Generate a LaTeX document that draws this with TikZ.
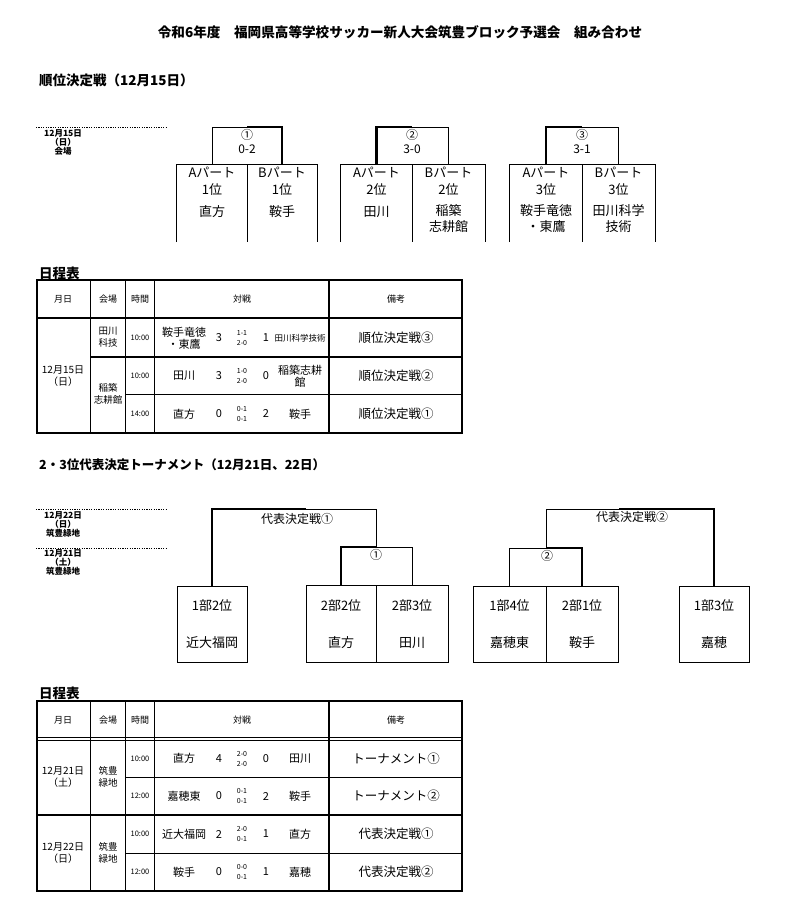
\documentclass[tikz,border=0pt]{standalone}
\usepackage{fontspec}
\setmainfont{Noto Sans CJK JP}
\newcommand{\matchrow}[9]{%
 \node[tm] (#1a) at (140,#2) {#3};
 \node[tn] (#1b) at (184,#2) {#4};
 \node[tn] (#1c) at (219,#2) {#5};
 \node[ts] (#1d) at (242,#2) {#6};
 \node[tn] (#1e) at (266,#2) {#7};
 \node[tn] (#1f) at (300,#2) {#8};
 \node[tr] (#1g) at (396,#2) {#9};}
\newcommand{\headrow}[2]{%
 \node[th] (#1a) at (63,#2) {月日};
 \node[th] (#1b) at (108,#2) {会場};
 \node[th] (#1c) at (140,#2) {時間};
 \node[th] (#1d) at (242,#2) {対戦};
 \node[th] (#1e) at (396,#2) {備考};}
\begin{document}
\begin{tikzpicture}[x=1pt,y=-1pt,
  ln/.style={line width=0.9pt},
  wn/.style={line width=2.3pt, line join=miter},
  tbl/.style={line width=2pt},
  dot/.style={line width=0.7pt, dash pattern=on 1.2pt off 1.2pt},
  tx/.style={inner sep=0pt, align=center},
  ttl/.style={tx, font=\bfseries\fontsize{13.6}{16}\selectfont},
  hd/.style={tx, anchor=west, font=\bfseries\fontsize{13.5}{16}\selectfont},
  side/.style={tx, font=\bfseries\fontsize{8.5}{9}\selectfont},
  bx/.style={tx, font=\fontsize{13}{16.5}\selectfont},
  mk/.style={tx, font=\fontsize{12}{14}\selectfont},
  half/.style={minimum height=77pt, inner sep=0pt},
  box2/.style={draw, line width=0.9pt, minimum height=76pt, inner sep=0pt},
  th/.style={tx, font=\fontsize{9}{11}\selectfont},
  tv/.style={tx, font=\fontsize{9.5}{12}\selectfont},
  tm/.style={tx, font=\fontsize{7.5}{9}\selectfont},
  tn/.style={tx, font=\fontsize{11}{12}\selectfont},
  ts/.style={tx, font=\fontsize{7}{10}\selectfont},
  tr/.style={tx, font=\fontsize{12.5}{14}\selectfont},
]
\useasboundingbox (0,0) rectangle (789,908);
\fill[white] (0,0) rectangle (789,908);

% ---------- title and headings
\node[ttl] (title) at (400,32) {令和6年度　福岡県高等学校サッカー新人大会筑豊ブロック予選会　組み合わせ};
\node[hd] (h1) at (39,80) {順位決定戦（12月15日）};
\node[hd] (h2) at (39,273) {日程表};
\node[hd, font=\bfseries\fontsize{12.5}{15}\selectfont] (h3) at (39,465) {2・3位代表決定トーナメント（12月21日、22日）};
\node[hd] (h4) at (39,693) {日程表};

% ---------- side labels
\draw[dot] (36,127) -- (167,127);
\node[side] (d1) at (63,142) {12月15日\\（日）\\会場};
\draw[dot] (36,509) -- (167,509);
\node[side] (d2) at (63,524) {12月22日\\（日）\\筑豊緑地};
\draw[dot] (36,548) -- (167,548);
\node[side] (d3) at (63,562) {12月21日\\（土）\\筑豊緑地};

% ---------- section 1 boxes
\node[half, minimum width=70pt] (A1) at (212,203.5) {};
\node[half, minimum width=70pt] (B1) at (282,203.5) {};
\node[half, minimum width=71pt] (A2) at (376.5,203.5) {};
\node[half, minimum width=73pt] (B2) at (448.5,203.5) {};
\node[half, minimum width=72pt] (A3) at (546,203.5) {};
\node[half, minimum width=73pt] (B3) at (618.5,203.5) {};
\foreach \p/\q in {A1/B1,A2/B2,A3/B3}{
  \draw[ln] (\p.south west) -- (\p.north west) -- (\q.north east) -- (\q.south east);
  \draw[ln] (\p.north east) -- (\p.south east);
}
\node[bx] (A1a) at (212,181) {Aパート\\1位};
\node[bx] (A1b) at (212,212) {直方};
\node[bx] (B1a) at (282,181) {Bパート\\1位};
\node[bx] (B1b) at (282,212) {鞍手};
\node[bx] (A2a) at (376.5,181) {Aパート\\2位};
\node[bx] (A2b) at (376.5,212) {田川};
\node[bx] (B2a) at (448.5,181) {Bパート\\2位};
\node[bx] (B2b) at (448.5,218.5) {稲築\\志耕館};
\node[bx] (A3a) at (546,181) {Aパート\\3位};
\node[bx] (A3b) at (546,218.5) {鞍手竜徳\\・東鷹};
\node[bx] (B3a) at (618.5,181) {Bパート\\3位};
\node[bx] (B3b) at (618.5,218.5) {田川科学\\技術};

% brackets section 1
\coordinate (J1) at (247,127);
\coordinate (J2) at (412,127);
\coordinate (J3) at (582,127);
\draw[ln] (A1.north) -- (A1.north |- J1) -- (J1);
\draw[wn] (J1) -- (B1.north |- J1) -- (B1.north);
\draw[wn] (A2.north) -- (A2.north |- J2) -- (J2);
\draw[ln] (J2) -- (B2.north |- J2) -- (B2.north);
\draw[wn] (A3.north) -- (A3.north |- J3) -- (J3);
\draw[ln] (J3) -- (B3.north |- J3) -- (B3.north);
\node[mk] (M1) at (247,141) {①\\0-2};
\node[mk] (M2) at (412,141) {②\\3-0};
\node[mk] (M3) at (582,141) {③\\3-1};

% ---------- table 1
\draw[tbl] (37,280) rectangle (462,433);
\draw[tbl] (37,317.5) -- (462,317.5);
\draw[ln] (90,280) -- (90,433);
\draw[ln] (125,280) -- (125,433);
\draw[ln] (154,280) -- (154,433);
\draw[tbl] (329,280) -- (329,433);
\draw[tbl] (90,357) -- (462,357);
\draw[ln] (125,394.5) -- (462,394.5);
\headrow{ha}{299}
\node[tv] (v1) at (108,337) {田川\\科技};
\node[tv] (v2) at (108,394) {稲築\\志耕館};
\node[tv, font=\fontsize{10}{12}\selectfont] (dt1) at (63,376) {12月15日\\（日）};
\matchrow{ra}{338}{10:00}{鞍手竜徳\\・東鷹}{3}{1-1\\2-0}{1}{\fontsize{8.5}{10}\selectfont 田川科学技術}{順位決定戦③}
\matchrow{rb}{376}{10:00}{田川}{3}{1-0\\2-0}{0}{稲築志耕\\館}{順位決定戦②}
\matchrow{rc}{414}{14:00}{直方}{0}{0-1\\0-1}{2}{鞍手}{順位決定戦①}

% ---------- section 2 boxes
\node[box2, minimum width=70pt] (K1) at (212,624) {};
\node[box2, minimum width=70pt, minimum height=77pt] (N1) at (341,623.5) {};
\node[box2, minimum width=72pt, minimum height=77pt] (T1) at (412,623.5) {};
\node[box2, minimum width=73pt] (H1) at (509.5,624) {};
\node[box2, minimum width=72pt] (S1) at (582,624) {};
\node[box2, minimum width=70pt] (KA) at (714,624) {};
\node[bx] (K1a) at (212,606) {1部2位};
\node[bx] (K1b) at (212,643) {近大福岡};
\node[bx] (N1a) at (341,606) {2部2位};
\node[bx] (N1b) at (341,643) {直方};
\node[bx] (T1a) at (412,606) {2部3位};
\node[bx] (T1b) at (412,643) {田川};
\node[bx] (H1a) at (509.5,606) {1部4位};
\node[bx] (H1b) at (509.5,643) {嘉穂東};
\node[bx] (S1a) at (582,606) {2部1位};
\node[bx] (S1b) at (582,643) {鞍手};
\node[bx] (KAa) at (714,606) {1部3位};
\node[bx] (KAb) at (714,643) {嘉穂};

% brackets section 2
\coordinate (Q1) at (306,509);
\coordinate (J4) at (376,547);
\draw[wn] (K1.north) -- (K1.north |- Q1) -- (Q1);
\draw[ln] (Q1) -- (J4 |- Q1) -- (J4);
\draw[wn] (N1.north) -- (N1.north |- J4) -- (J4);
\draw[ln] (J4) -- (T1.north |- J4) -- (T1.north);
\coordinate (Q2) at (619,509);
\coordinate (J5) at (546,548);
\draw[ln] (J5) -- (J5 |- Q2) -- (Q2);
\draw[wn] (Q2) -- (KA.north |- Q2) -- (KA.north);
\draw[ln] (H1.north) -- (H1.north |- J5) -- (J5);
\draw[wn] (J5) -- (S1.north |- J5) -- (S1.north);
\node[mk] (L1) at (297,519) {代表決定戦①};
\node[mk] (L2) at (376,555) {①};
\node[mk] (L3) at (632,517) {代表決定戦②};
\node[mk] (L4) at (547,556) {②};

% ---------- table 2
\draw[tbl] (37,701) rectangle (462,891);
\draw[ln] (37,737) -- (462,737);
\draw[ln] (37,740.5) -- (462,740.5);
\draw[ln] (90,701) -- (90,891);
\draw[ln] (125,701) -- (125,891);
\draw[ln] (154,701) -- (154,891);
\draw[tbl] (329,701) -- (329,891);
\draw[ln] (125,777) -- (462,777);
\draw[tbl] (37,815) -- (462,815);
\draw[ln] (125,853) -- (462,853);
\headrow{hb}{720}
\node[tv, font=\fontsize{10}{12}\selectfont] (dt2) at (63,777) {12月21日\\（土）};
\node[tv] (v3) at (108,777) {筑豊\\緑地};
\node[tv, font=\fontsize{10}{12}\selectfont] (dt3) at (63,853) {12月22日\\（日）};
\node[tv] (v4) at (108,853) {筑豊\\緑地};
\matchrow{rd}{758.5}{10:00}{直方}{4}{2-0\\2-0}{0}{田川}{トーナメント①}
\matchrow{re}{796}{12:00}{嘉穂東}{0}{0-1\\0-1}{2}{鞍手}{トーナメント②}
\matchrow{rf}{834}{10:00}{近大福岡}{2}{2-0\\0-1}{1}{直方}{代表決定戦①}
\matchrow{rg}{872}{12:00}{鞍手}{0}{0-0\\0-1}{1}{嘉穂}{代表決定戦②}
\end{tikzpicture}
\end{document}
